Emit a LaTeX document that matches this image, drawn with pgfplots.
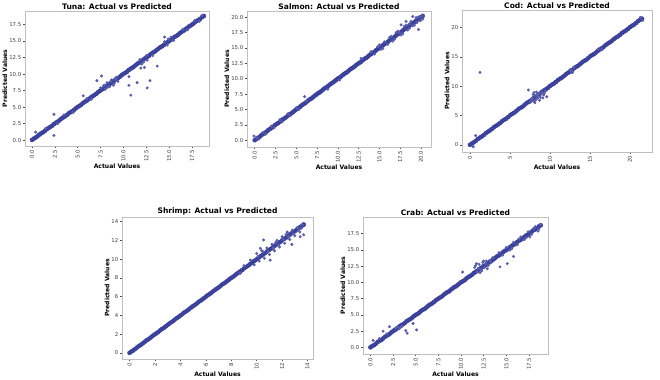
\documentclass[border=0pt]{standalone}
\usepackage{pgfplots}
\pgfplotsset{compat=1.18}
\usepackage{fontspec}
\setmainfont{DejaVu Sans}
\definecolor{pts}{RGB}{60,66,156}
\pgfplotsset{
  fishax/.style={
    scale only axis,
    axis line style={gray!50, line width=0.6bp},
    tick style={gray!60!black, line width=0.5bp},
    major tick length=2bp,
    tick align=outside,
    xtick pos=bottom, ytick pos=left,
    ticklabel style={font=\fontsize{5.4}{6}\selectfont, text=black!75},
    x tick label style={rotate=90, anchor=east, inner sep=1.5bp},
    y tick label style={inner sep=1.5bp},
    every axis title/.style={font=\bfseries\fontsize{7.6}{8.5}\selectfont, at={(0.5,1)}, anchor=south, inner sep=0bp, yshift=1.6bp},
    label style={font=\bfseries\fontsize{6.1}{7}\selectfont},
    xlabel style={yshift=3bp},
    ylabel style={yshift=-3bp},
    /pgf/number format/assume math mode=true,
    scaled ticks=false,
    clip=false,
  },
  oneplace/.style={xticklabel={\pgfmathprintnumber[fixed,fixed zerofill,precision=1]{\tick}},
                   yticklabel={\pgfmathprintnumber[fixed,fixed zerofill,precision=1]{\tick}}},
  band/.style={only marks, color=pts, mark=*, mark size=2.1bp, mark options={draw=none, fill=pts}},
  noise/.style={only marks, color=pts!85, mark=*, mark size=1.3bp, mark options={draw=none, fill=pts!85}},
}
\begin{document}
\begin{tikzpicture}
\fill[white] (0bp,0bp) rectangle (660bp,380bp);

% ---------------- Tuna ----------------
\begin{axis}[fishax, oneplace, at={(25bp,234bp)}, anchor=south west, width=184bp, height=135bp,
  xmin=-0.77, xmax=19.36, ymin=-0.9, ymax=19.55,
  xtick={0,2.5,...,17.5}, ytick={0,2.5,...,17.5},
  title={Tuna: Actual vs Predicted}, xlabel={Actual Values}, ylabel={Predicted Values}]
\addplot[band] coordinates {(0,0.02) (0.4,0.38) (0.8,0.83) (1.2,1.17) (1.6,1.63) (2.0,1.98) (2.4,2.42) (2.8,2.78) (3.2,3.23) (3.6,3.58) (4.0,4.03) (4.4,4.37) (4.8,4.82) (5.2,5.18) (5.6,5.63) (6.0,5.97) (6.4,6.43) (6.8,6.78) (7.2,7.23) (7.6,7.62) (8.0,7.98) (8.4,8.43) (8.8,8.78) (9.2,9.22) (9.6,9.58) (10.0,10.03) (10.4,10.37) (10.8,10.82) (11.2,11.18) (11.6,11.63) (12.0,11.97) (12.4,12.42) (12.8,12.78) (13.2,13.23) (13.6,13.58) (14.0,14.03) (14.4,14.37) (14.8,14.82) (15.2,15.18) (15.6,15.63) (16.0,15.97) (16.4,16.42) (16.8,16.78) (17.2,17.23) (17.6,17.58) (18.0,18.03) (18.4,18.37) (18.8,18.8)};
\addplot[band] coordinates {(0.2,0.22) (0.6,0.58) (1.0,1.02) (1.4,1.38) (1.8,1.82) (2.2,2.18) (2.6,2.62) (3.0,2.98) (3.4,3.42) (3.8,3.78) (4.2,4.22) (4.6,4.58) (5.0,5.02) (5.4,5.38) (5.8,5.82) (6.2,6.18) (6.6,6.62) (7.0,6.98) (7.4,7.42) (7.8,7.78) (8.2,8.22) (8.6,8.58) (9.0,9.02) (9.4,9.38) (9.8,9.82) (10.2,10.18) (10.6,10.62) (11.0,10.98) (11.4,11.42) (11.8,11.78) (12.2,12.22) (12.6,12.58) (13.0,13.02) (13.4,13.38) (13.8,13.82) (14.2,14.18) (14.6,14.62) (15.0,14.98) (15.4,15.42) (15.8,15.78) (16.2,16.22) (16.6,16.58) (17.0,17.02) (17.4,17.38) (17.8,17.82) (18.2,18.18) (18.6,18.62)};
\addplot[noise] coordinates {(7.5,7.9) (7.8,8.2) (8.0,7.7) (8.2,8.7) (8.5,8.1) (8.7,9.1) (9.0,8.6) (9.2,9.5) (9.4,8.9) (8.9,8.3) (8.3,8.0) (8.6,8.9) (9.1,9.2) (7.9,8.3) (11.8,12.2) (12.2,11.8) (12.5,12.8) (12.0,11.5) (12.6,12.1) (14.5,14.9) (14.8,14.4) (15.2,15.6) (15.5,15.1) (14.9,15.3) (16.5,16.8) (17.0,16.7) (17.8,18.1) (18.3,18.0) (18.6,18.9) (1.5,1.8) (2.8,2.5) (3.5,3.8) (4.5,4.2) (6.0,6.3) (6.5,6.2)
(0.4,1.2) (2.4,0.7) (2.4,3.9) (5.6,6.7) (7.1,9.0) (7.6,9.7) (10.6,9.6) (10.6,8.3) (10.8,6.8) (11.5,8.7) (12.6,7.9) (12.9,9.0) (13.7,11.2) (12.3,11.0) (13.2,12.8) (14.5,15.6) (11.9,10.9)};
\end{axis}

% ---------------- Salmon ----------------
\begin{axis}[fishax, oneplace, at={(247bp,233bp)}, anchor=south west, width=184bp, height=136bp,
  xmin=-0.93, xmax=21.2, ymin=-1.09, ymax=21.0,
  xtick={0,2.5,...,20}, ytick={0,2.5,...,20},
  title={Salmon: Actual vs Predicted}, xlabel={Actual Values}, ylabel={Predicted Values}]
\addplot[band] coordinates {(0,0.02) (0.4,0.38) (0.8,0.83) (1.2,1.17) (1.6,1.63) (2.0,1.98) (2.4,2.42) (2.8,2.78) (3.2,3.23) (3.6,3.58) (4.0,4.03) (4.4,4.37) (4.8,4.82) (5.2,5.18) (5.6,5.63) (6.0,5.97) (6.4,6.43) (6.8,6.78) (7.2,7.23) (7.6,7.62) (8.0,7.98) (8.4,8.43) (8.8,8.78) (9.2,9.22) (9.6,9.58) (10.0,10.03) (10.4,10.37) (10.8,10.82) (11.2,11.18) (11.6,11.63) (12.0,11.97) (12.4,12.42) (12.8,12.78) (13.2,13.23) (13.6,13.58) (14.0,14.03) (14.4,14.37) (14.8,14.82) (15.2,15.18) (15.6,15.63) (16.0,15.97) (16.4,16.42) (16.8,16.78) (17.2,17.23) (17.6,17.58) (18.0,18.03) (18.4,18.37) (18.8,18.8) (19.2,19.18) (19.6,19.63) (20.0,19.98) (20.2,20.2)};
\addplot[band] coordinates {(0.2,0.22) (0.6,0.58) (1.0,1.02) (1.4,1.38) (1.8,1.82) (2.2,2.18) (2.6,2.62) (3.0,2.98) (3.4,3.42) (3.8,3.78) (4.2,4.22) (4.6,4.58) (5.0,5.02) (5.4,5.38) (5.8,5.82) (6.2,6.18) (6.6,6.62) (7.0,6.98) (7.4,7.42) (7.8,7.78) (8.2,8.22) (8.6,8.58) (9.0,9.02) (9.4,9.38) (9.8,9.82) (10.2,10.18) (10.6,10.62) (11.0,10.98) (11.4,11.42) (11.8,11.78) (12.2,12.22) (12.6,12.58) (13.0,13.02) (13.4,13.38) (13.8,13.82) (14.2,14.18) (14.6,14.62) (15.0,14.98) (15.4,15.42) (15.8,15.78) (16.2,16.22) (16.6,16.58) (17.0,17.02) (17.4,17.38) (17.8,17.82) (18.2,18.18) (18.6,18.62) (19.0,19.02) (19.4,19.38) (19.8,19.82)};
\addplot[noise] coordinates {(0.2,0.5) (0.5,0.2) (1.0,1.3) (1.3,1.0) (2.0,2.3) (2.3,2.0) (3.0,3.3) (3.3,3.0) (4.0,4.3) (4.3,4.0) (5.0,5.3) (5.3,5.0) (6.2,6.4) (14.0,14.4) (14.4,14.0) (14.8,15.2) (15.2,14.8) (15.6,16.0) (16.0,15.6) (16.4,16.9) (16.8,16.4) (17.2,17.7) (17.6,17.1) (18.0,18.5) (18.4,17.9) (18.8,19.3) (19.2,18.7) (19.6,20.0) (19.9,19.4) (20.1,20.2) (20.2,19.7) (19.4,19.9) (18.6,18.9) (17.4,17.5) (15.0,15.5) (15.4,14.9) (16.2,16.7) (16.6,16.1) (17.0,17.5) (17.8,17.3) (18.2,18.7) (19.0,18.6) (19.8,20.1) (19.5,19.1) (20.0,19.6)
(-0.1,0.7) (6.0,7.1) (8.8,8.3) (10.2,9.8) (17.6,18.75) (18.2,19.3) (19.0,20.1) (19.7,18.0) (18.6,18.2) (12.8,13.3)};
\end{axis}

% ---------------- Cod ----------------
\begin{axis}[fishax, at={(462bp,228bp)}, anchor=south west, width=190bp, height=142bp,
  xmin=-1, xmax=22.75, ymin=-1.19, ymax=22.95,
  xtick={0,5,...,20}, ytick={0,5,...,20},
  title={Cod: Actual vs Predicted}, xlabel={Actual Values}, ylabel={Predicted Values}]
\addplot[band] coordinates {(0,0.03) (0.5,0.47) (1,1.04) (1.5,1.46) (2,2.03) (2.5,2.48) (3,3.04) (3.5,3.47) (4,4.03) (4.5,4.46) (5,5.04) (5.5,5.47) (6,6.03) (6.5,6.46) (7,7.04) (7.5,7.47) (8,8.03) (8.5,8.46) (9,9.04) (9.5,9.47) (10,10.03) (10.5,10.46) (11,11.04) (11.5,11.47) (12,12.03) (12.5,12.46) (13,13.04) (13.5,13.47) (14,14.03) (14.5,14.46) (15,15.04) (15.5,15.47) (16,16.03) (16.5,16.46) (17,17.04) (17.5,17.47) (18,18.03) (18.5,18.46) (19,19.04) (19.5,19.47) (20,20.03) (20.5,20.46) (21,21.04) (21.5,21.47)};
\addplot[band] coordinates {(0.25,0.27) (0.75,0.73) (1.25,1.27) (1.75,1.73) (2.25,2.27) (2.75,2.73) (3.25,3.27) (3.75,3.73) (4.25,4.27) (4.75,4.73) (5.25,5.27) (5.75,5.73) (6.25,6.27) (6.75,6.73) (7.25,7.27) (7.75,7.73) (8.25,8.27) (8.75,8.73) (9.25,9.27) (9.75,9.73) (10.25,10.27) (10.75,10.73) (11.25,11.27) (11.75,11.73) (12.25,12.27) (12.75,12.73) (13.25,13.27) (13.75,13.73) (14.25,14.27) (14.75,14.73) (15.25,15.27) (15.75,15.73) (16.25,16.27) (16.75,16.73) (17.25,17.27) (17.75,17.73) (18.25,18.27) (18.75,18.73) (19.25,19.27) (19.75,19.73) (20.25,20.27) (20.75,20.73) (21.25,21.27)};
\addplot[noise] coordinates {(7.6,7.3) (7.8,8.0) (8.0,7.5) (8.2,8.4) (8.4,7.9) (8.6,8.7) (8.8,8.1) (9.0,9.0) (9.2,8.5) (8.3,9.0) (7.9,8.6) (8.7,7.6) (9.4,9.2) (8.1,7.2) (8.5,8.3) (8.0,8.9) (9.1,8.0) (8.2,7.6) (8.9,8.8) (8.4,8.6) (7.7,7.7) (9.3,8.8) (12.5,12.8) (12.8,12.3) (13.0,13.2) (12.7,12.6) (16.0,16.3) (16.5,16.2) (21.3,21.7) (21.6,21.2)
(1.25,12.35) (0.7,1.6) (7.3,9.35) (9.6,8.2) (0.4,-0.3)};
\end{axis}

% ---------------- Shrimp ----------------
\begin{axis}[fishax, at={(122bp,21bp)}, anchor=south west, width=191bp, height=142bp,
  xmin=-0.6, xmax=14.43, ymin=-0.64, ymax=14.5,
  xtick={0,2,...,14}, ytick={0,2,...,14},
  title={Shrimp: Actual vs Predicted}, xlabel={Actual Values}, ylabel={Predicted Values}]
\addplot[band] coordinates {(0,0.02) (0.3,0.29) (0.6,0.61) (0.9,0.89) (1.2,1.21) (1.5,1.49) (1.8,1.81) (2.1,2.09) (2.4,2.41) (2.7,2.69) (3.0,3.01) (3.3,3.29) (3.6,3.61) (3.9,3.89) (4.2,4.21) (4.5,4.49) (4.8,4.81) (5.1,5.09) (5.4,5.41) (5.7,5.69) (6.0,6.01) (6.3,6.29) (6.6,6.61) (6.9,6.89) (7.2,7.21) (7.5,7.49) (7.8,7.81) (8.1,8.09) (8.4,8.41) (8.7,8.69) (9.0,9.01) (9.3,9.29) (9.6,9.61) (9.9,9.89) (10.2,10.21) (10.5,10.49) (10.8,10.81) (11.1,11.09) (11.4,11.41) (11.7,11.69) (12.0,12.01) (12.3,12.29) (12.6,12.61) (12.9,12.89) (13.2,13.21) (13.5,13.49) (13.7,13.7)};
\addplot[band] coordinates {(0.15,0.16) (0.45,0.44) (0.75,0.76) (1.05,1.04) (1.35,1.36) (1.65,1.64) (1.95,1.96) (2.25,2.24) (2.55,2.56) (2.85,2.84) (3.15,3.16) (3.45,3.44) (3.75,3.76) (4.05,4.04) (4.35,4.36) (4.65,4.64) (4.95,4.96) (5.25,5.24) (5.55,5.56) (5.85,5.84) (6.15,6.16) (6.45,6.44) (6.75,6.76) (7.05,7.04) (7.35,7.36) (7.65,7.64) (7.95,7.96) (8.25,8.24) (8.55,8.56) (8.85,8.84) (9.15,9.16) (9.45,9.44) (9.75,9.76) (10.05,10.04) (10.35,10.36) (10.65,10.64) (10.95,10.96) (11.25,11.24) (11.55,11.56) (11.85,11.84) (12.15,12.16) (12.45,12.44) (12.75,12.76) (13.05,13.04) (13.35,13.36) (13.65,13.64)};
\addplot[noise] coordinates {(9.5,9.9) (9.8,9.4) (10.0,10.6) (10.2,9.8) (10.4,10.9) (10.6,10.1) (10.8,11.2) (11.0,10.5) (11.2,11.6) (11.4,10.9) (11.6,12.0) (11.8,11.3) (12.0,12.4) (12.2,11.7) (12.4,12.8) (12.6,12.1) (12.8,13.1) (13.0,12.5) (13.2,13.4) (13.4,12.9) (13.6,13.7) (13.5,13.3) (9.0,9.3) (8.7,8.5) (10.1,10.3) (10.9,10.8) (11.3,11.2) (11.7,11.5) (12.1,12.1) (12.5,12.4) (12.9,12.7) (13.3,13.1) (10.5,10.8) (11.5,11.8) (12.3,12.6)
(10.54,12.05) (10.28,11.16) (11.06,9.9) (12.77,11.58) (13.42,12.4) (13.7,12.6) (12.4,12.9)};
\end{axis}

% ---------------- Crab ----------------
\begin{axis}[fishax, oneplace, at={(363bp,26bp)}, anchor=south west, width=185bp, height=137bp,
  xmin=-0.82, xmax=19.6, ymin=-1.0, ymax=20.07,
  xtick={0,2.5,...,17.5}, ytick={0,2.5,...,17.5},
  title={Crab: Actual vs Predicted}, xlabel={Actual Values}, ylabel={Predicted Values}]
\addplot[band] coordinates {(0,0.03) (0.4,0.37) (0.8,0.84) (1.2,1.16) (1.6,1.64) (2.0,1.97) (2.4,2.43) (2.8,2.77) (3.2,3.24) (3.6,3.57) (4.0,4.04) (4.4,4.36) (4.8,4.83) (5.2,5.17) (5.6,5.64) (6.0,5.96) (6.4,6.44) (6.8,6.77) (7.2,7.24) (7.6,7.61) (8.0,7.99) (8.4,8.44) (8.8,8.77) (9.2,9.23) (9.6,9.57) (10.0,10.04) (10.4,10.36) (10.8,10.83) (11.2,11.17) (11.6,11.64) (12.0,11.96) (12.4,12.43) (12.8,12.77) (13.2,13.24) (13.6,13.57) (14.0,14.04) (14.4,14.36) (14.8,14.83) (15.2,15.17) (15.6,15.64) (16.0,15.96) (16.4,16.43) (16.8,16.77) (17.2,17.24) (17.6,17.57) (18.0,18.04) (18.4,18.36) (18.8,18.8)};
\addplot[band] coordinates {(0.2,0.22) (0.6,0.58) (1.0,1.02) (1.4,1.38) (1.8,1.82) (2.2,2.18) (2.6,2.62) (3.0,2.98) (3.4,3.42) (3.8,3.78) (4.2,4.22) (4.6,4.58) (5.0,5.02) (5.4,5.38) (5.8,5.82) (6.2,6.18) (6.6,6.62) (7.0,6.98) (7.4,7.42) (7.8,7.78) (8.2,8.22) (8.6,8.58) (9.0,9.02) (9.4,9.38) (9.8,9.82) (10.2,10.18) (10.6,10.62) (11.0,10.98) (11.4,11.42) (11.8,11.78) (12.2,12.22) (12.6,12.58) (13.0,13.02) (13.4,13.38) (13.8,13.82) (14.2,14.18) (14.6,14.62) (15.0,14.98) (15.4,15.42) (15.8,15.78) (16.2,16.22) (16.6,16.58) (17.0,17.02) (17.4,17.38) (17.8,17.82) (18.2,18.18) (18.6,18.62)};
\addplot[noise] coordinates {(2.8,3.0) (3.2,2.9) (3.5,3.3) (3.0,3.2) (1.0,1.4) (1.8,2.1) (11.5,12.3) (11.8,11.6) (12.0,12.8) (12.2,12.0) (12.4,13.1) (12.6,12.3) (12.8,13.3) (13.0,12.6) (13.2,13.4) (12.3,11.8) (11.7,12.9) (11.6,12.6) (12.1,11.5) (12.5,13.3) (12.9,12.1) (13.3,13.0) (13.5,13.8) (11.9,12.2) (12.7,12.9) (14.2,14.6) (14.6,14.2) (15.0,15.4) (15.4,15.0) (15.8,16.2) (16.2,15.8) (16.6,17.0) (17.0,16.6) (17.4,17.8) (17.8,17.4) (18.2,18.6) (18.6,18.2) (18.8,18.9) (17.6,17.0) (18.5,17.9) (15.6,15.2) (16.4,16.7) (17.2,16.9) (18.0,18.3)
(0.3,1.1) (1.4,2.5) (2.1,3.2) (3.4,3.2) (3.9,2.6) (4.05,2.2) (5.1,2.7) (4.7,3.7) (10.17,11.6) (14.3,12.4) (15.1,12.9) (15.8,14.0)};
\end{axis}

\pgfresetboundingbox
\useasboundingbox (0bp,0bp) rectangle (660bp,380bp);
\end{tikzpicture}
\end{document}
